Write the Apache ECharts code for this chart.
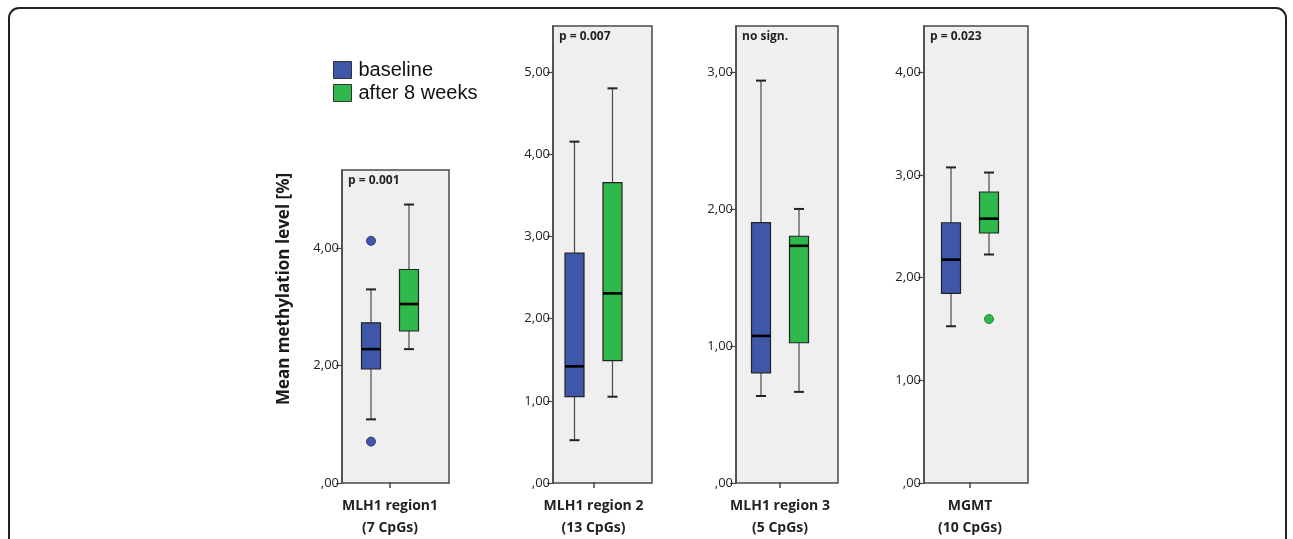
<!DOCTYPE html>
<html>
<head>
<meta charset="utf-8">
<script src="https://cdn.jsdelivr.net/npm/echarts@6/dist/echarts.min.js"></script>
<style>
html,body{margin:0;padding:0;background:#fff;}
#chart{width:1293px;height:539px;}
</style>
</head>
<body>
<div id="chart"></div>
<script>
// ---------- data ----------
const panelNames = ['MLH1 region1\n(7 CpGs)', 'MLH1 region 2\n(13 CpGs)', 'MLH1 region 3\n(5 CpGs)', 'MGMT\n(10 CpGs)'];
const pLabels = ['p = 0.001', 'p = 0.007', 'no sign.', 'p = 0.023'];
const seriesNames = ['baseline', 'after 8 weeks'];
// [lower whisker, Q1, median, Q3, upper whisker]
const baselineStats = [
  [1.07, 1.93, 2.27, 2.72, 3.29],
  [0.51, 1.04, 1.41, 2.79, 4.15],
  [0.63, 0.80, 1.07, 1.90, 2.94],
  [1.52, 1.84, 2.17, 2.53, 3.07]
];
const after8Stats = [
  [2.27, 2.58, 3.04, 3.63, 4.74],
  [1.04, 1.48, 2.30, 3.65, 4.80],
  [0.66, 1.02, 1.73, 1.80, 2.00],
  [2.22, 2.43, 2.57, 2.83, 3.02]
];
const baselineOutliers = [[0.69, 4.12], [], [], []];
const after8Outliers = [[], [], [], [1.59]];
const yMax = [5.33, 5.56, 3.34, 4.45];
const yStep = [2, 1, 1, 1];
const yTicks = [[0, 2, 4], [0, 1, 2, 3, 4, 5], [0, 1, 2, 3], [0, 1, 2, 3, 4]];

// ---------- layout / style ----------
const frames = [
  {left: 342, top: 170, width: 107, height: 313, center: 390},
  {left: 553, top: 26, width: 99, height: 457, center: 593.5},
  {left: 736, top: 26, width: 102, height: 457, center: 780},
  {left: 924, top: 26, width: 104, height: 457, center: 970}
];
const colors = ['#3f57a8', '#2fb84b'];
const outlierBorder = ['#2a3c80', '#1f8a35'];
const OFFSETS = [-19, 19];
const BOX_W = 19, CAP_W = 10;
const FONT = '"Open Sans", "Noto Sans", sans-serif';

function fmt(v) {
  const s = v.toFixed(2).replace('.', ',');
  return v === 0 ? s.slice(1) : s;
}

function makeRender(offset) {
  return function (params, api) {
    const xc = api.coord([api.value(0), 0])[0] + offset;
    const yy = i => api.coord([api.value(0), api.value(i)])[1];
    const yLo = yy(1), yQ1 = yy(2), yMed = yy(3), yQ3 = yy(4), yHi = yy(5);
    const color = api.visual('color');
    const whisk = {stroke: '#4a4a4a', lineWidth: 1.2};
    const cap = {stroke: '#222', lineWidth: 2};
    return {
      type: 'group',
      children: [
        {type: 'line', shape: {x1: xc, y1: yQ3, x2: xc, y2: yHi}, style: whisk},
        {type: 'line', shape: {x1: xc, y1: yQ1, x2: xc, y2: yLo}, style: whisk},
        {type: 'line', shape: {x1: xc - CAP_W / 2, y1: yHi, x2: xc + CAP_W / 2, y2: yHi}, style: cap},
        {type: 'line', shape: {x1: xc - CAP_W / 2, y1: yLo, x2: xc + CAP_W / 2, y2: yLo}, style: cap},
        {type: 'rect', shape: {x: xc - BOX_W / 2, y: yQ3, width: BOX_W, height: yQ1 - yQ3},
          style: {fill: color, stroke: '#222', lineWidth: 1.2}},
        {type: 'line', shape: {x1: xc - BOX_W / 2, y1: yMed, x2: xc + BOX_W / 2, y2: yMed},
          style: {stroke: '#000', lineWidth: 2.6}}
      ]
    };
  };
}

const grids = [], xAxes = [], yAxes = [], series = [], graphics = [];
frames.forEach((f, i) => {
  // frame grid (background + y axis)
  grids.push({left: f.left, top: f.top, width: f.width, height: f.height,
    show: true, backgroundColor: '#efefef', borderColor: '#4a4a4a', borderWidth: 1.5});
  // inner grid (boxes + category tick/label)
  const iw = 85;
  grids.push({left: f.center - iw / 2, top: f.top, width: iw, height: f.height});
  const gF = 2 * i, gI = 2 * i + 1;
  xAxes.push({gridIndex: gF, type: 'category', data: [''], show: false});
  xAxes.push({gridIndex: gI, type: 'category', data: [panelNames[i]],
    axisLine: {show: false},
    axisTick: {show: true, alignWithLabel: true, length: 6, lineStyle: {color: '#4a4a4a', width: 1.5}},
    axisLabel: {show: true, fontFamily: FONT, fontSize: 14, fontWeight: 'bold', color: '#222',
      margin: 13, lineHeight: 22, interval: 0}
  });
  const yBase = {type: 'value', min: 0, max: yMax[i], interval: yStep[i], splitLine: {show: false}};
  yAxes.push(Object.assign({gridIndex: gF}, yBase, {
    axisLine: {show: true, lineStyle: {color: '#4a4a4a', width: 1.5}},
    axisTick: {show: true, length: 6, customValues: yTicks[i], lineStyle: {color: '#4a4a4a', width: 1.2}},
    axisLabel: {show: true, customValues: yTicks[i], formatter: fmt, fontFamily: FONT, fontSize: 13,
      color: '#222', margin: 3}
  }));
  yAxes.push(Object.assign({gridIndex: gI}, yBase, {show: false}));

  [baselineStats, after8Stats].forEach((stats, k) => {
    series.push({
      type: 'custom', name: seriesNames[k], xAxisIndex: 2 * i + 1, yAxisIndex: 2 * i + 1,
      itemStyle: {color: colors[k]},
      renderItem: makeRender(OFFSETS[k]),
      encode: {x: 0, y: [1, 2, 3, 4, 5]},
      data: [[0].concat(stats[i])],
      clip: false, silent: true, z: 3
    });
    const outs = (k === 0 ? baselineOutliers : after8Outliers)[i];
    if (outs.length) {
      series.push({
        type: 'scatter', xAxisIndex: 2 * i + 1, yAxisIndex: 2 * i + 1,
        symbol: 'circle', symbolSize: 9, symbolOffset: [OFFSETS[k], 0],
        itemStyle: {color: colors[k], borderColor: outlierBorder[k], borderWidth: 1, opacity: 1},
        data: outs.map(v => [0, v]), silent: true, z: 4
      });
    }
  });

  graphics.push({type: 'text', left: f.left + 6, top: f.top + 5,
    style: {text: pLabels[i], font: 'bold 12px ' + FONT, fill: '#222'}});
});

graphics.push({type: 'text', x: 284, y: 289, rotation: Math.PI / 2,
  style: {text: 'Mean methylation level [%]', font: 'bold 17px ' + FONT, fill: '#1a1a1a',
    align: 'center', verticalAlign: 'middle'}});
graphics.push({type: 'rect', shape: {x: 9, y: 8, width: 1277, height: 600, r: 10},
  style: {fill: 'none', stroke: '#222', lineWidth: 2}, silent: true});

const chart = echarts.init(document.getElementById('chart'), null, {renderer: 'canvas'});
chart.setOption({
  backgroundColor: '#fff',
  animation: false,
  grid: grids, xAxis: xAxes, yAxis: yAxes, series: series,
  legend: {
    data: seriesNames, orient: 'vertical', left: 333, top: 60, padding: 0,
    itemWidth: 18, itemHeight: 17, itemGap: 3, icon: 'rect',
    itemStyle: {borderColor: '#333', borderWidth: 1},
    textStyle: {fontFamily: '"Liberation Sans", Arial, sans-serif', fontSize: 20, color: '#111', padding: [0, 0, 0, 2]},
    selectedMode: false
  },
  graphic: graphics
});
</script>
</body>
</html>
